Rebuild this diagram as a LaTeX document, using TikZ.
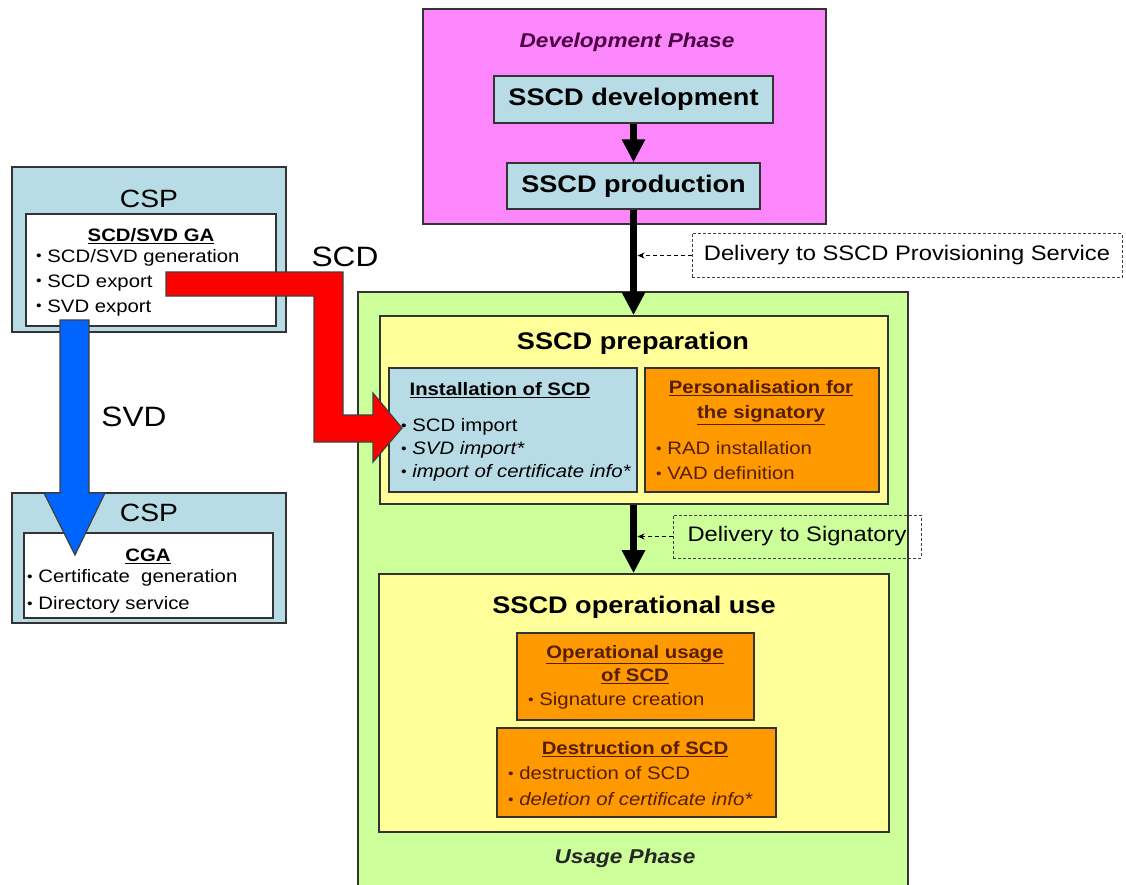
\documentclass[tikz,border=0pt]{standalone}
\usepackage{fontspec}
\setmainfont{Liberation Sans}[FakeStretch=1.13]
\usetikzlibrary{arrows.meta}

\definecolor{cspblue}{RGB}{183,220,229}
\definecolor{devpink}{RGB}{252,134,252}
\definecolor{usegreen}{RGB}{204,255,153}
\definecolor{prepyellow}{RGB}{255,255,153}
\definecolor{taskorange}{RGB}{255,153,0}
\definecolor{darktext}{RGB}{85,30,0}
\definecolor{phasetext}{RGB}{75,0,65}
\definecolor{scdred}{RGB}{255,0,0}
\definecolor{svdblue}{RGB}{0,100,255}

\newcommand{\bul}{\raisebox{1.2pt}{\fontsize{14}{14}\selectfont\textbullet}\ }
\newcommand{\fsz}[2]{\fontsize{#1}{#2}\selectfont}

\begin{document}
\begin{tikzpicture}[x=1pt,y=-1pt,
    box/.style={draw=black!80, line width=1.6pt, inner sep=0pt},
    thinbox/.style={draw=black!80, line width=1.3pt, inner sep=0pt},
    dashbox/.style={draw=black!75, dashed, dash pattern=on 3pt off 2pt, line width=1pt, inner sep=0pt},
    bigarrow/.style={line width=6.5pt, -{Triangle[length=23pt,width=22pt]}},
    hintarrow/.style={dashed, dash pattern=on 4pt off 3pt, line width=1pt, -{Stealth[length=7pt,width=6pt]}, shorten >=4pt},
    blockarrow/.style={draw=black!75, line width=1.2pt, line join=miter},
    bigtitle/.style={font=\fsz{24}{28}\bfseries},
    tasktitle/.style={font=\fsz{18}{25}\bfseries, align=center},
    bullets/.style={font=\fsz{18}{25}, align=left, anchor=west, inner sep=0pt}]
\useasboundingbox (0,0) rectangle (1126,885);

% Development phase
\node[box, fill=devpink, minimum width=403pt, minimum height=215pt] (devphase) at (624.5,116.5) {};
\node[font=\fsz{20}{24}\bfseries\itshape, text=phasetext] (devlabel) at (627,42) {Development Phase};
\node[thinbox, fill=cspblue, minimum width=279pt, minimum height=47pt, bigtitle] (sscddev) at (633.5,99.5) {SSCD development};
\node[thinbox, fill=cspblue, minimum width=253pt, minimum height=46pt, bigtitle] (sscdprod) at (633.5,186) {SSCD production};

% Usage phase
\node[box, fill=usegreen, minimum width=550pt, minimum height=600pt] (usephase) at (633,592) {};
\node[font=\fsz{20}{24}\bfseries\itshape, text=black!85] (uselabel) at (625,858) {Usage Phase};

% SSCD preparation
\node[box, fill=prepyellow, minimum width=508pt, minimum height=188pt] (prep) at (634,410) {};
\node[bigtitle] (preplabel) at (633,343) {SSCD preparation};
\node[thinbox, fill=cspblue, minimum width=248pt, minimum height=124pt] (install) at (513,430) {};
\node[tasktitle] (installtitle) at (500,390) {\underline{Installation of SCD}};
\node[bullets, font=\fsz{18}{23}] (installlist) at (401,450) {\bul SCD import\\ \bul\textit{SVD import*}\\ \bul\textit{import of certificate info*}};
\node[thinbox, fill=taskorange, minimum width=234pt, minimum height=124pt] (perso) at (762,430) {};
\node[tasktitle, text=darktext] (persotitle) at (761,402.5) {\underline{Personalisation for}\\ \underline{the signatory}};
\node[bullets, text=darktext] (persolist) at (656,460.5) {\bul RAD installation\\ \bul VAD definition};

% SSCD operational use
\node[box, fill=prepyellow, minimum width=510pt, minimum height=258pt] (opuse) at (634,703) {};
\node[bigtitle] (opuselabel) at (634,607) {SSCD operational use};
\node[thinbox, fill=taskorange, minimum width=237pt, minimum height=87pt] (opusage) at (635.5,676.5) {};
\node[tasktitle, text=darktext, font=\fsz{18}{23}\bfseries] (opusagetitle) at (635,664.5) {\underline{Operational usage}\\ \underline{of SCD}};
\node[bullets, text=darktext] (opusagelist) at (528,701) {\bul Signature creation};
\node[thinbox, fill=taskorange, minimum width=279pt, minimum height=89pt] (destr) at (636.5,772.5) {};
\node[tasktitle, text=darktext] (destrtitle) at (635,749) {\underline{Destruction of SCD}};
\node[bullets, text=darktext, font=\fsz{18}{26}] (destrlist) at (508,786) {\bul destruction of SCD\\ \bul\textit{deletion of certificate info*}};

% Deliveries
\node[dashbox, fill=white, minimum width=430pt, minimum height=44pt, font=\fsz{21}{24}] (delprov) at (907,255.5) {Delivery to SSCD Provisioning Service};
\node[dashbox, minimum width=248pt, minimum height=43pt, font=\fsz{21}{24}] (delsig) at (797,536.5) {Delivery to Signatory};
\draw[bigarrow] (sscddev.south) -- (sscdprod.north);
\draw[bigarrow] (sscdprod.south) -- (sscdprod.south |- prep.north);
\draw[bigarrow] (prep.south -| sscdprod.south) -- (sscdprod.south |- opuse.north);
\draw[hintarrow] (delprov.west) -- (delprov.west -| sscdprod.south);
\draw[hintarrow] (delsig.west) -- (delsig.west -| sscdprod.south);

% CSP boxes
\node[box, fill=cspblue, minimum width=274pt, minimum height=165pt] (cspga) at (149,249.5) {};
\node[font=\fsz{25}{28}] (cspgalabel) at (149,199) {CSP};
\node[thinbox, fill=white, minimum width=250pt, minimum height=112pt] (ga) at (151,270) {};
\node[tasktitle] (gatitle) at (151,236) {\underline{SCD/SVD GA}};
\node[bullets] (galist) at (36,282.5) {\bul SCD/SVD generation\\ \bul SCD export\\ \bul SVD export};
\node[box, fill=cspblue, minimum width=274pt, minimum height=130pt] (cspcga) at (149,558) {};
\node[font=\fsz{25}{28}] (cspcgalabel) at (149,513) {CSP};
\node[thinbox, fill=white, minimum width=249pt, minimum height=85pt] (cga) at (148.5,575.5) {};
\node[tasktitle] (cgatitle) at (148,556) {\underline{CGA}};
\node[bullets, font=\fsz{18}{27}] (cgalist) at (27,591.5) {\bul Certificate\ \ generation\\ \bul Directory service};

% SCD and SVD transfers
\filldraw[blockarrow, fill=scdred] (166,272) -- (343,272) -- (343,415) -- (373,415) -- (373,393)
  -- (402,428) -- (373,462) -- (373,442) -- (314,442) -- (314,296) -- (166,296) -- cycle;
\filldraw[blockarrow, fill=svdblue] (60,320) -- (89,320) -- (89,493) -- (105,493) -- (75,555)
  -- (44,493) -- (60,493) -- cycle;
\node[font=\fsz{28}{32}] (scdlabel) at (345,257) {SCD};
\node[font=\fsz{28}{32}] (svdlabel) at (134,417) {SVD};
\end{tikzpicture}
\end{document}
